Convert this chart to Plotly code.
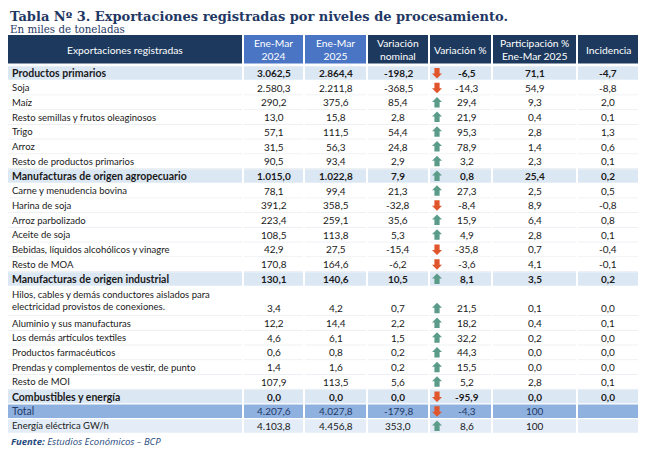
import plotly.graph_objects as go

# table data (miles de toneladas)
labels = ["Productos primarios", "Soja", "Maíz", "Resto semillas y frutos oleaginosos",
          "Trigo", "Arroz", "Resto de productos primarios",
          "Manufacturas de origen agropecuario", "Carne y menudencia bovina",
          "Harina de soja", "Arroz parbolizado", "Aceite de soja",
          "Bebidas, líquidos alcohólicos y vinagre", "Resto de MOA",
          "Manufacturas de origen industrial",
          "Hilos, cables y demás conductores aislados para<br>electricidad provistos de conexiones.",
          "Aluminio y sus manufacturas", "Los demás artículos textiles",
          "Productos farmacéuticos", "Prendas y complementos de vestir, de punto",
          "Resto de MOI", "Combustibles y energía", "Total", "Energía eléctrica GW/h"]
kinds = ["sub", "item", "item", "item", "item", "item", "item",
         "sub", "item", "item", "item", "item", "item", "item",
         "sub", "item", "item", "item", "item", "item", "item",
         "sub", "total", "energy"]
v2024 = [3062.5, 2580.3, 290.2, 13.0, 57.1, 31.5, 90.5,
         1015.0, 78.1, 391.2, 223.4, 108.5, 42.9, 170.8,
         130.1, 3.4, 12.2, 4.6, 0.6, 1.4, 107.9, 0.0, 4207.6, 4103.8]
v2025 = [2864.4, 2211.8, 375.6, 15.8, 111.5, 56.3, 93.4,
         1022.8, 99.4, 358.5, 259.1, 113.8, 27.5, 164.6,
         140.6, 4.2, 14.4, 6.1, 0.8, 1.6, 113.5, 0.0, 4027.8, 4456.8]
var_nom = [-198.2, -368.5, 85.4, 2.8, 54.4, 24.8, 2.9,
           7.9, 21.3, -32.8, 35.6, 5.3, -15.4, -6.2,
           10.5, 0.7, 2.2, 1.5, 0.2, 0.2, 5.6, 0.0, -179.8, 353.0]
var_pct = [-6.5, -14.3, 29.4, 21.9, 95.3, 78.9, 3.2,
           0.8, 27.3, -8.4, 15.9, 4.9, -35.8, -3.6,
           8.1, 21.5, 18.2, 32.2, 44.3, 15.5, 5.2, -95.9, -4.3, 8.6]
part = [71.1, 54.9, 9.3, 0.4, 2.8, 1.4, 2.3,
        25.4, 2.5, 8.9, 6.4, 2.8, 0.7, 4.1,
        3.5, 0.1, 0.4, 0.2, 0.0, 0.0, 2.8, 0.0, 100, 100]
incid = [-4.7, -8.8, 2.0, 0.1, 1.3, 0.6, 0.1,
         0.2, 0.5, -0.8, 0.8, 0.1, -0.4, -0.1,
         0.2, 0.0, 0.1, 0.0, 0.0, 0.0, 0.1, 0.0, None, None]

headers = ["Exportaciones registradas", "Ene-Mar<br>2024", "Ene-Mar<br>2025",
           "Variación<br>nominal", "Variación %", "Participación %<br>Ene-Mar 2025",
           "Incidencia"]

NAVY = "#1d3a5e"
BLUE = "#4a75c4"
SUB = "#dce7f4"
TOT = "#8fb1e0"
ENE = "#e3ecf7"
UP = "#5a9c89"
DOWN = "#e0552c"
FONT = "Lato"


def fmt(v, whole=False):
    if v is None:
        return ""
    if whole and v == 100:
        return "100"
    s = f"{abs(v):,.1f}".replace(",", "X").replace(".", ",").replace("X", ".")
    return ("-" if v < 0 else "") + s


cols = [(7, 242), (244, 303), (305, 366), (368, 428), (430, 491), (493, 576), (578, 638)]
top = 65.6
slot = 14.71

fig = go.Figure()
shapes = []
ann = []

# header
for i, (x0, x1) in enumerate(cols):
    shapes.append(dict(type="rect", x0=x0, x1=x1, y0=35, y1=63.5, line_width=0,
                       fillcolor=BLUE if i in (1, 2) else NAVY, layer="below"))
    ann.append(dict(x=(x0 + x1) / 2, y=49.5, text=headers[i], showarrow=False,
                    font=dict(family=FONT, size=10.3, color="white"),
                    xanchor="center", yanchor="middle"))

y = top
for r, lab in enumerate(labels):
    k = kinds[r]
    n = 2 if "<br>" in lab else 1
    y0, y1 = y, y + n * slot
    ym = y1 - slot / 2
    fill = {"sub": SUB, "total": TOT, "energy": ENE}.get(k, "white")
    bold = k == "sub"
    col_txt = "#1f3a66" if k == "total" else "#1a1a1a"
    for (x0, x1) in cols:
        shapes.append(dict(type="rect", x0=x0, x1=x1, y0=y0 + 0.6, y1=y1 - 0.6,
                           line_width=0, fillcolor=fill, layer="below"))
        if k == "item":
            shapes.append(dict(type="line", x0=x0, x1=x1, y0=y1, y1=y1,
                               line=dict(color="#eceff3", width=1), layer="below"))
    txt = f"<b>{lab}</b>" if bold else lab
    ann.append(dict(x=cols[0][0] + 2.5, y=(y0 + y1) / 2, text=txt, showarrow=False,
                    xanchor="left", yanchor="middle", align="left",
                    font=dict(family=FONT, size=10.5 if bold else (10.5 if k == "total" else 9.5),
                              color=col_txt)))
    vals = [fmt(v2024[r]), fmt(v2025[r]), fmt(var_nom[r]), fmt(var_pct[r]),
            fmt(part[r], whole=True), fmt(incid[r])]
    for j, v in enumerate(vals):
        x0, x1 = cols[j + 1]
        cx = (x0 + x1) / 2
        if j == 3:
            cx = x0 + 37
        ann.append(dict(x=cx, y=ym, text=f"<b>{v}</b>" if bold else v, showarrow=False,
                        xanchor="center", yanchor="middle",
                        font=dict(family=FONT, size=10, color=col_txt)))
    # arrow icon in Variación %
    ax = cols[4][0] + 7
    up = var_pct[r] >= 0
    s = 1 if up else -1
    pts = [(0, -5.5), (5, -0.5), (2.6, -0.5), (2.6, 5), (-2.6, 5), (-2.6, -0.5), (-5, -0.5)]
    path = "M" + " L".join(f"{ax + px},{ym + s * py}" for px, py in pts) + " Z"
    shapes.append(dict(type="path", path=path, line_width=0,
                       fillcolor=UP if up else DOWN))
    y = y1

# title, subtitle, source
LX = 8.5
ann.append(dict(x=LX, y=8.2, text="<b>Tabla Nº 3. Exportaciones registradas por niveles de procesamiento.</b>",
                showarrow=False, xanchor="left", yanchor="top", borderpad=0,
                font=dict(family="DejaVu Serif", size=13, color="#1f3864")))
ann.append(dict(x=LX, y=35.6, text="En miles de toneladas", showarrow=False,
                xanchor="left", yanchor="bottom", borderpad=0,
                font=dict(family="DejaVu Serif", size=10.3, color="#1f3864")))
ann.append(dict(x=LX, y=441, text="<b><i>Fuente:</i></b><i> Estudios Económicos – BCP</i>",
                showarrow=False, xanchor="left", yanchor="middle",
                font=dict(family="Open Sans", size=9.5, color="#1f497d")))

# page adds a small body margin, so the ranges are shifted to compensate
fig.update_layout(
    width=656, height=452,
    margin=dict(l=0, r=0, t=0, b=0),
    paper_bgcolor="white", plot_bgcolor="white",
    xaxis=dict(range=[8, 664], visible=False, fixedrange=True),
    yaxis=dict(range=[460, 8], visible=False, fixedrange=True),
    shapes=shapes, annotations=ann, showlegend=False,
)

fig.write_html("out.html")
